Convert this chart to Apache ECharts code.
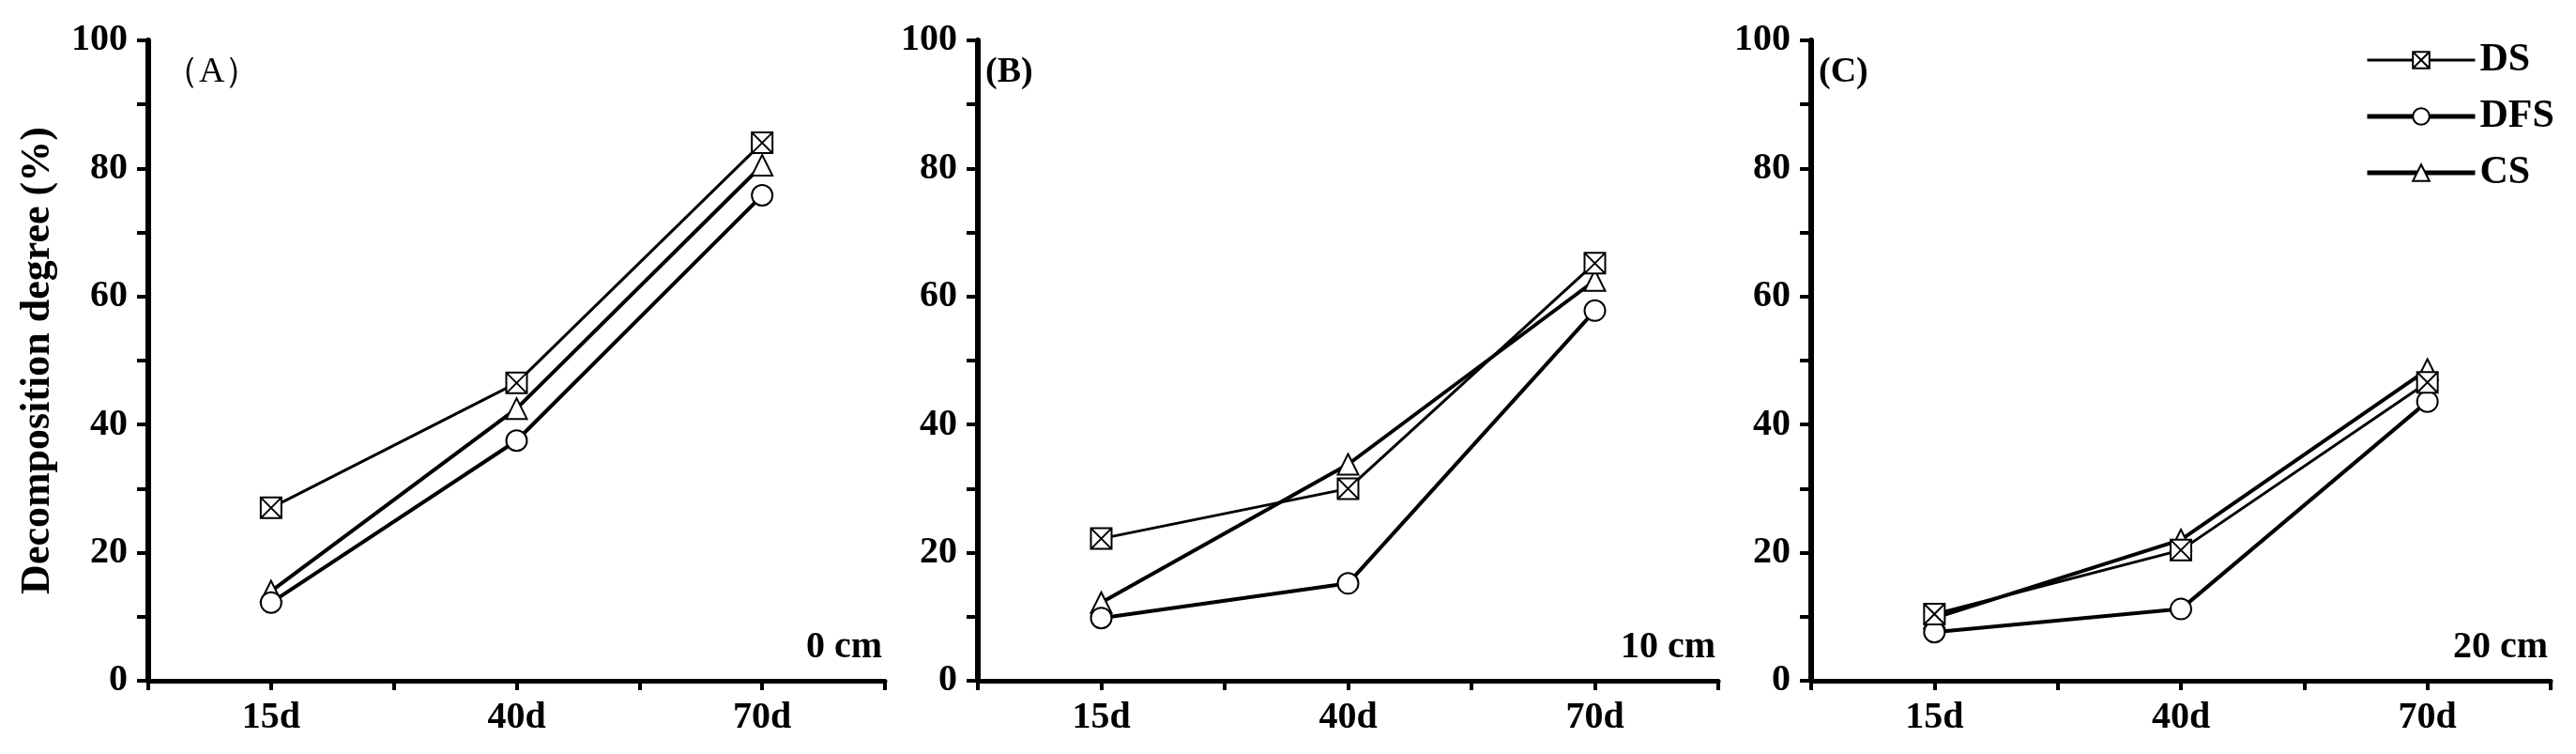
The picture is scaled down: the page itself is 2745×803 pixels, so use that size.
<!DOCTYPE html>
<html>
<head>
<meta charset="utf-8">
<title>Decomposition degree</title>
<script src="https://cdn.jsdelivr.net/npm/echarts@6/dist/echarts.min.js"></script>
<style>
    html, body { margin: 0; padding: 0; background: #fff; }
    #chart { width: 2745px; height: 803px; }
</style>
</head>
<body>
<div id="chart"></div>
<script>
    // data
    var categories = ['15d', '40d', '70d'];
    var seriesNames = ['DS', 'DFS', 'CS'];
    var panelLabels = ['\uFF08A\uFF09', '(B)', '(C)'];
    var depthLabels = ['0 cm', '10 cm', '20 cm'];
    var yTicks = [0, 20, 40, 60, 80, 100];

    // panel A (0 cm)
    var dsA = [27, 46.5, 84];
    var dfsA = [12.2, 37.5, 75.8];
    var csA = [14, 42.5, 80.5];
    // panel B (10 cm)
    var dsB = [22.2, 30, 65.2];
    var dfsB = [9.8, 15.2, 57.8];
    var csB = [12.2, 33.8, 62.5];
    // panel C (20 cm)
    var dsC = [10.4, 20.4, 46.6];
    var dfsC = [7.6, 11.2, 43.6];
    var csC = [9.8, 22, 48.6];

    var panels = [
        [dsA, dfsA, csA],
        [dsB, dfsB, csB],
        [dsC, dfsC, csC]
    ];

    var font = '"Liberation Serif", "Times New Roman", serif';
    var symbols = [
        'path://M0 0H20V20H0Z M0 0L20 20 M20 0L0 20',
        'circle',
        'triangle'
    ];
    var lineWidths = [3, 4, 4];

    var grids = [
        {left: 158, top: 43, width: 785, height: 682},
        {left: 1042, top: 43, width: 789, height: 682},
        {left: 1930, top: 43, width: 788, height: 682}
    ];

    var xAxes = [];
    var yAxes = [];
    var series = [];
    var graphics = [];

    grids.forEach(function (g, i) {
        xAxes.push({
            type: 'value',
            gridIndex: i,
            min: 0.5,
            max: 3.5,
            interval: 0.5,
            splitLine: {show: false},
            axisLine: {lineStyle: {color: '#000', width: 5}},
            axisTick: {show: true, length: 10, lineStyle: {color: '#000', width: 4}},
            axisLabel: {
                margin: 20,
                color: '#000',
                fontFamily: font,
                fontWeight: 'bold',
                fontSize: 40,
                formatter: function (v) {
                    return Number.isInteger(v) ? categories[v - 1] : '';
                }
            }
        });
        yAxes.push({
            type: 'value',
            gridIndex: i,
            min: yTicks[0],
            max: yTicks[yTicks.length - 1],
            interval: yTicks[1] - yTicks[0],
            name: i === 0 ? 'Decomposition degree (%)' : '',
            nameLocation: 'middle',
            nameGap: 95,
            nameTextStyle: {color: '#000', fontFamily: font, fontWeight: 'bold', fontSize: 44},
            splitLine: {show: false},
            axisLine: {show: true, lineStyle: {color: '#000', width: 6}},
            axisTick: {show: true, length: 12, lineStyle: {color: '#000', width: 4}},
            minorTick: {show: true, splitNumber: 2, length: 12, lineStyle: {color: '#000', width: 4}},
            axisLabel: {
                margin: 22,
                color: '#000',
                fontFamily: font,
                fontWeight: 'bold',
                fontSize: 40
            }
        });

        panels[i].forEach(function (vals, k) {
            series.push({
                name: seriesNames[k],
                type: 'line',
                xAxisIndex: i,
                yAxisIndex: i,
                data: vals.map(function (v, j) { return [j + 1, v]; }),
                symbol: symbols[k],
                symbolSize: 22,
                lineStyle: {color: '#000', width: lineWidths[k]},
                itemStyle: {color: '#fff', borderColor: '#000', borderWidth: 2},
                z: 3 - k
            });
        });

        graphics.push({
            type: 'text',
            left: g.left + (i === 0 ? 16 : 8),
            top: 58,
            style: {
                text: panelLabels[i],
                fill: '#000',
                font: (i === 0 ? 'normal' : 'bold') + ' 38px ' + font
            }
        });
        graphics.push({
            type: 'text',
            x: g.left + g.width - 3,
            y: 710,
            style: {
                text: depthLabels[i],
                fill: '#000',
                align: 'right',
                verticalAlign: 'bottom',
                font: 'bold 40px ' + font
            }
        });
    });

    var myChart = echarts.init(document.getElementById('chart'));
    var option = {
        backgroundColor: '#fff',
        animation: false,
        grid: grids,
        xAxis: xAxes,
        yAxis: yAxes,
        legend: {
            data: [
                {name: 'DS', lineStyle: {width: 3}},
                {name: 'DFS', lineStyle: {width: 5}},
                {name: 'CS', lineStyle: {width: 5}}
            ],
            orient: 'vertical',
            left: 2515,
            top: 38,
            itemWidth: 115,
            itemHeight: 22,
            itemGap: 18,
            textStyle: {color: '#000', fontFamily: font, fontWeight: 'bold', fontSize: 42, lineHeight: 40}
        },
        graphic: graphics,
        series: series
    };
    option && myChart.setOption(option);
</script>
</body>
</html>
